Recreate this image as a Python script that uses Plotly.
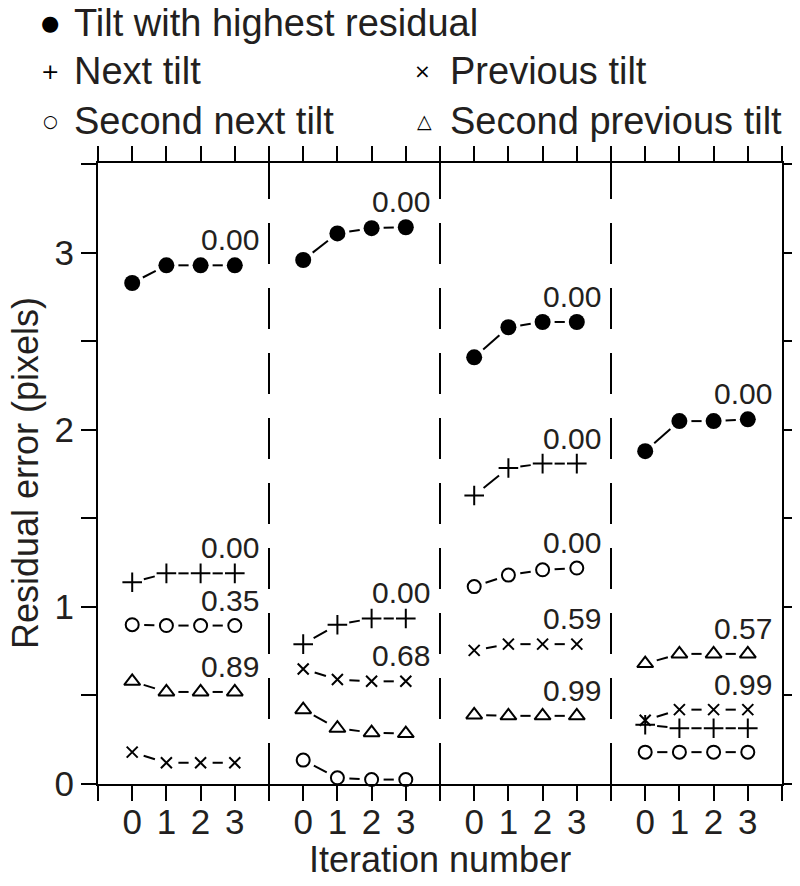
import math
import plotly.graph_objects as go

# --- data ---
iterations = [0, 1, 2, 3]
panels = 4

highest = [[2.83, 2.93, 2.93, 2.93], [2.96, 3.11, 3.14, 3.145],
           [2.41, 2.58, 2.61, 2.61], [1.88, 2.05, 2.05, 2.06]]
next_tilt = [[1.14, 1.19, 1.19, 1.19], [0.79, 0.90, 0.935, 0.935],
             [1.63, 1.785, 1.81, 1.81], [0.335, 0.315, 0.315, 0.315]]
previous_tilt = [[0.18, 0.12, 0.12, 0.12], [0.65, 0.59, 0.58, 0.58],
                 [0.755, 0.79, 0.79, 0.79], [0.36, 0.42, 0.42, 0.42]]
second_next = [[0.90, 0.895, 0.895, 0.895], [0.135, 0.035, 0.025, 0.025],
               [1.115, 1.18, 1.21, 1.22], [0.18, 0.18, 0.18, 0.18]]
second_prev = [[0.58, 0.52, 0.52, 0.52], [0.42, 0.315, 0.29, 0.285],
               [0.39, 0.385, 0.385, 0.385], [0.68, 0.735, 0.735, 0.735]]

# label printed above the last point of a series in each panel ("" = none)
highest_lbl = ["0.00", "0.00", "0.00", "0.00"]
next_lbl = ["0.00", "0.00", "0.00", ""]
previous_lbl = ["", "0.68", "0.59", "0.99"]
second_next_lbl = ["0.35", "", "0.00", ""]
second_prev_lbl = ["0.89", "", "0.99", "0.57"]

legend_names = ["Tilt with highest residual", "Next tilt", "Previous tilt",
                "Second next tilt", "Second previous tilt"]

# --- layout constants ---
# the page body adds an 8px offset, so the figure is 8px smaller than the window
OFF = 8
W, H = 800 - OFF, 886 - OFF
ML, MR, MT, MB = 98 - OFF, 18, 163 - OFF, 102
PANEL_W = 5            # each panel spans 5 x-units (-1 .. 4)
X_RANGE = [-1, PANEL_W * panels - 1]
Y_RANGE = [0, 3.508]
PX_X = (W - ML - MR) / (X_RANGE[1] - X_RANGE[0])
PX_Y = (H - MT - MB) / (Y_RANGE[1] - Y_RANGE[0])
GAP = 12               # px gap between a point and its connector (R type="b")
FONT = "Liberation Sans, Arial, Helvetica, sans-serif"
INK = "#231f20"

series = [
    (highest, highest_lbl, dict(symbol="circle", size=16, color="black")),
    (next_tilt, next_lbl, dict(symbol="cross-thin", size=14, color="black",
                                line=dict(width=2, color="black"))),
    (previous_tilt, previous_lbl, dict(symbol="x-thin", size=11, color="black",
                                        line=dict(width=2, color="black"))),
    (second_next, second_next_lbl, dict(symbol="circle-open", size=13, color="black",
                                         line=dict(width=2, color="black"))),
    (second_prev, second_prev_lbl, dict(symbol="triangle-up-open", size=14, color="black",
                                         line=dict(width=2, color="black"))),
]

fig = go.Figure()
annotations = []

for values, labels, marker in series:
    mx, my, lx, ly = [], [], [], []
    for p in range(panels):
        xs = [PANEL_W * p + i for i in iterations]
        ys = values[p]
        mx += xs
        my += ys
        # short connectors that stop short of the points
        for i in range(len(xs) - 1):
            dx, dy = xs[i + 1] - xs[i], ys[i + 1] - ys[i]
            L = math.hypot(dx * PX_X, dy * PX_Y)
            if L <= 2 * GAP:
                continue
            t = GAP / L
            lx += [xs[i] + t * dx, xs[i + 1] - t * dx, None]
            ly += [ys[i] + t * dy, ys[i + 1] - t * dy, None]
        if labels[p]:
            annotations.append(dict(
                x=PANEL_W * p + 3.77, y=ys[-1], xref="x", yref="y",
                text=labels[p], showarrow=False, xanchor="right", yanchor="bottom",
                yshift=7, font=dict(size=30, color=INK, family=FONT)))
    fig.add_trace(go.Scatter(x=lx, y=ly, mode="lines",
                             line=dict(color="black", width=2),
                             hoverinfo="skip", showlegend=False))
    fig.add_trace(go.Scatter(x=mx, y=my, mode="markers", marker=marker,
                             showlegend=False, cliponaxis=False))

# dashed separators between panels
for p in range(1, panels):
    fig.add_shape(type="line", xref="x", yref="y",
                  x0=PANEL_W * p - 1, x1=PANEL_W * p - 1,
                  y0=Y_RANGE[0], y1=Y_RANGE[1],
                  line=dict(color="black", width=2, dash="41px,24px"))

# legend drawn as text at the top (positions in window pixels)
def px_to_paper(px, py):
    return (px - OFF - ML) / (W - ML - MR), (H - MB - (py - OFF)) / (H - MT - MB)

legend_items = [
    ("\u25cf", 21, 50, 23, legend_names[0], 72),
    ("+", 22, 50, 71, legend_names[1], 72),
    ("\u00d7", 20, 422, 71, legend_names[2], 448),
    ("\u25cb", 17, 50, 121, legend_names[3], 72),
    ("\u25b3", 19, 424, 121, legend_names[4], 448),
]
for sym, ssize, sx, sy, name, tx in legend_items:
    ax_, ay_ = px_to_paper(sx, sy)
    annotations.append(dict(x=ax_, y=ay_, xref="paper", yref="paper", text=sym,
                            showarrow=False, xanchor="center", yanchor="middle",
                            font=dict(size=ssize, color="black", family="DejaVu Sans")))
    bx, by = px_to_paper(tx, sy)
    annotations.append(dict(x=bx, y=by, xref="paper", yref="paper", text=name,
                            showarrow=False, xanchor="left", yanchor="middle",
                            font=dict(size=38, color=INK, family=FONT)))

# axis titles
tx_, ty_ = px_to_paper(440, 859)
annotations.append(dict(x=tx_, y=ty_, xref="paper", yref="paper", text="Iteration number",
                        showarrow=False, xanchor="center", yanchor="middle",
                        font=dict(size=36, color=INK, family=FONT)))
tx_, ty_ = px_to_paper(25, 473)
annotations.append(dict(x=tx_, y=ty_, xref="paper", yref="paper",
                        text="Residual error (pixels)", textangle=-90,
                        showarrow=False, xanchor="center", yanchor="middle",
                        font=dict(size=36, color=INK, family=FONT)))

xtickvals = list(range(X_RANGE[0], X_RANGE[1] + 1))
xticktext = [str(v % PANEL_W) if v % PANEL_W in iterations else "" for v in xtickvals]
ytickvals = [0, 0.5, 1, 1.5, 2, 2.5, 3, 3.5]
yticktext = ["0", "", "1", "", "2", "", "3", ""]

fig.update_xaxes(range=X_RANGE, tickvals=xtickvals, ticktext=xticktext,
                 ticks="outside", ticklen=15, tickwidth=2, tickcolor="black",
                 showline=True, linewidth=2, linecolor="black", mirror="allticks",
                 showgrid=False, zeroline=False, automargin=False,
                 ticklabelstandoff=-9,
                 tickfont=dict(size=35, color=INK, family=FONT))
fig.update_yaxes(range=Y_RANGE, tickvals=ytickvals, ticktext=yticktext,
                 ticks="outside", ticklen=15, tickwidth=2, tickcolor="black",
                 showline=True, linewidth=2, linecolor="black", mirror="allticks",
                 showgrid=False, zeroline=False, automargin=False,
                 tickfont=dict(size=35, color=INK, family=FONT))

fig.update_layout(width=W, height=H, margin=dict(l=ML, r=MR, t=MT, b=MB),
                  plot_bgcolor="white", paper_bgcolor="white",
                  annotations=annotations, showlegend=False)

fig.write_html("out.html")
